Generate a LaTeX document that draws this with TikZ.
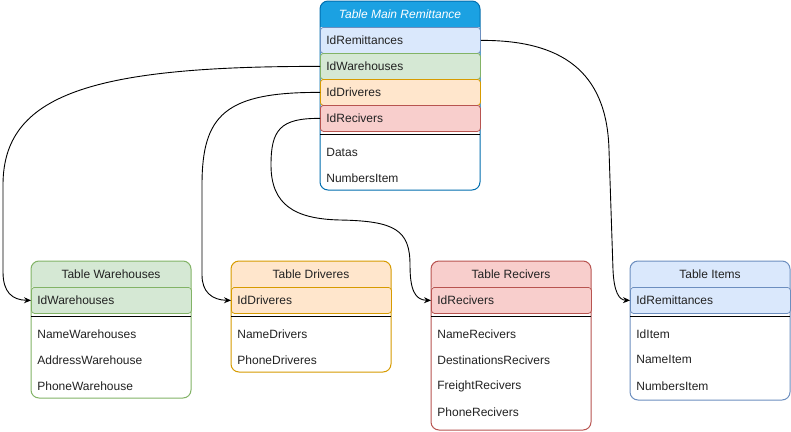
\documentclass[tikz,border=0pt]{standalone}
\usepackage{fontspec}
\setmainfont{Liberation Sans}
\usetikzlibrary{arrows.meta}
\definecolor{bluefill}{HTML}{DAE8FC}
\definecolor{bluedraw}{HTML}{6C8EBF}
\definecolor{greenfill}{HTML}{D5E8D4}
\definecolor{greendraw}{HTML}{82B366}
\definecolor{orangefill}{HTML}{FFE6CC}
\definecolor{orangedraw}{HTML}{D79B00}
\definecolor{redfill}{HTML}{F8CECC}
\definecolor{reddraw}{HTML}{B85450}
\definecolor{mainfill}{HTML}{1BA1E2}
\definecolor{maindraw}{HTML}{006EAF}
\definecolor{txt}{HTML}{222222}
\tikzset{
  base/.style={font=\fontsize{12}{14}\selectfont, text=txt},
  rowbox/.style={base, anchor=north west, text width=148pt, inner xsep=6pt, inner ysep=0pt,
    minimum height=26pt, align=left, rounded corners=3pt, line width=0.8pt},
  field/.style={rowbox, draw=none, fill=none},
  headtxt/.style={base, anchor=center},
  frame/.style={line width=1pt, rounded corners=8pt},
  sep/.style={line width=0.9pt, black},
  link/.style={line width=0.9pt, black, -{Stealth[length=7pt,width=6pt]}},
}
% #1 x, #2 top, #3 bottom, #4 fill, #5 draw, #6 title, #7 name
\newcommand{\mytable}[7]{%
  \begin{scope}
    \clip[rounded corners=8pt] (#1,#2) rectangle ({#1+160},#3);
    \fill[white] (#1,#2) rectangle ({#1+160},#3);
    \fill[#4] (#1,#2) rectangle ({#1+160},{#2+26});
  \end{scope}
  \draw[frame, draw=#5] (#1,#2) rectangle ({#1+160},#3);
  \node[headtxt] (#7) at ({#1+80},{#2+13.5}) {#6};
}
\begin{document}
\begin{tikzpicture}[x=1pt,y=-1pt]
\useasboundingbox (0,0) rectangle (791,431);
\fill[white] (0,0) rectangle (791,431);

% Main table
\mytable{320}{1}{190}{mainfill}{maindraw}{\color{white}\itshape Table Main Remittance}{mTitle}
\node[rowbox, fill=bluefill, draw=bluedraw] (mRem) at (320,27) {IdRemittances};
\node[rowbox, fill=greenfill, draw=greendraw] (mWh) at (320,53) {IdWarehouses};
\node[rowbox, fill=orangefill, draw=orangedraw] (mDr) at (320,79) {IdDriveres};
\node[rowbox, fill=redfill, draw=reddraw] (mRc) at (320,105) {IdRecivers};
\draw[sep] (320,134.5) -- (480,134.5);
\node[field] (mDat) at (320,139) {Datas};
\node[field] (mNum) at (320,164.5) {NumbersItem};

% Warehouses
\mytable{31}{261}{398}{greenfill}{greendraw}{Table Warehouses}{wTitle}
\node[rowbox, fill=greenfill, draw=greendraw] (wId) at (31,287) {IdWarehouses};
\draw[sep] (31,316.5) -- (191,316.5);
\node[field] (wName) at (31,320.5) {NameWarehouses};
\node[field] (wAddr) at (31,346.5) {AddressWarehouse};
\node[field] (wPhone) at (31,372.5) {PhoneWarehouse};

% Drivers
\mytable{231}{261}{372}{orangefill}{orangedraw}{Table Driveres}{dTitle}
\node[rowbox, fill=orangefill, draw=orangedraw] (dId) at (231,287) {IdDriveres};
\draw[sep] (231,316.5) -- (391,316.5);
\node[field] (dName) at (231,320.5) {NameDrivers};
\node[field] (dPhone) at (231,346.5) {PhoneDriveres};

% Recivers
\mytable{431}{261}{430}{redfill}{reddraw}{Table Recivers}{rTitle}
\node[rowbox, fill=redfill, draw=reddraw] (rId) at (431,287) {IdRecivers};
\draw[sep] (431,316.5) -- (591,316.5);
\node[field] (rName) at (431,320.5) {NameRecivers};
\node[field] (rDest) at (431,346.5) {DestinationsRecivers};
\node[field] (rFr) at (431,372.5) {FreightRecivers};
\node[field] (rPhone) at (431,398.5) {PhoneRecivers};

% Items
\mytable{630}{261}{400}{bluefill}{bluedraw}{Table Items}{iTitle}
\node[rowbox, fill=bluefill, draw=bluedraw] (iId) at (630,287) {IdRemittances};
\draw[sep] (630,316.5) -- (790,316.5);
\node[field] (iIdItem) at (630,320.5) {IdItem};
\node[field] (iName) at (630,346.5) {NameItem};
\node[field] (iNum) at (630,372.5) {NumbersItem};

% Connectors
\draw[link] (mRem.east) .. controls (560,40) and (607,70) .. (609,150)
  -- (613,270) .. controls (614,292) and (619,300) .. (iId.west);
\draw[link] (mWh.west) .. controls (90,66) and (3,95) .. (3,185)
  -- (3,272) .. controls (3,292) and (12,300) .. (wId.west);
\draw[link] (mDr.west) .. controls (225,92) and (202,115) .. (202,185)
  -- (202,275) .. controls (202,292) and (212,300) .. (dId.west);
\draw[link] (mRc.west) .. controls (280,118) and (271,130) .. (271,165)
  .. controls (271,205) and (295,219) .. (340,220)
  .. controls (395,221) and (410,230) .. (410,265)
  .. controls (410,290) and (415,300) .. (rId.west);
\end{tikzpicture}
\end{document}
